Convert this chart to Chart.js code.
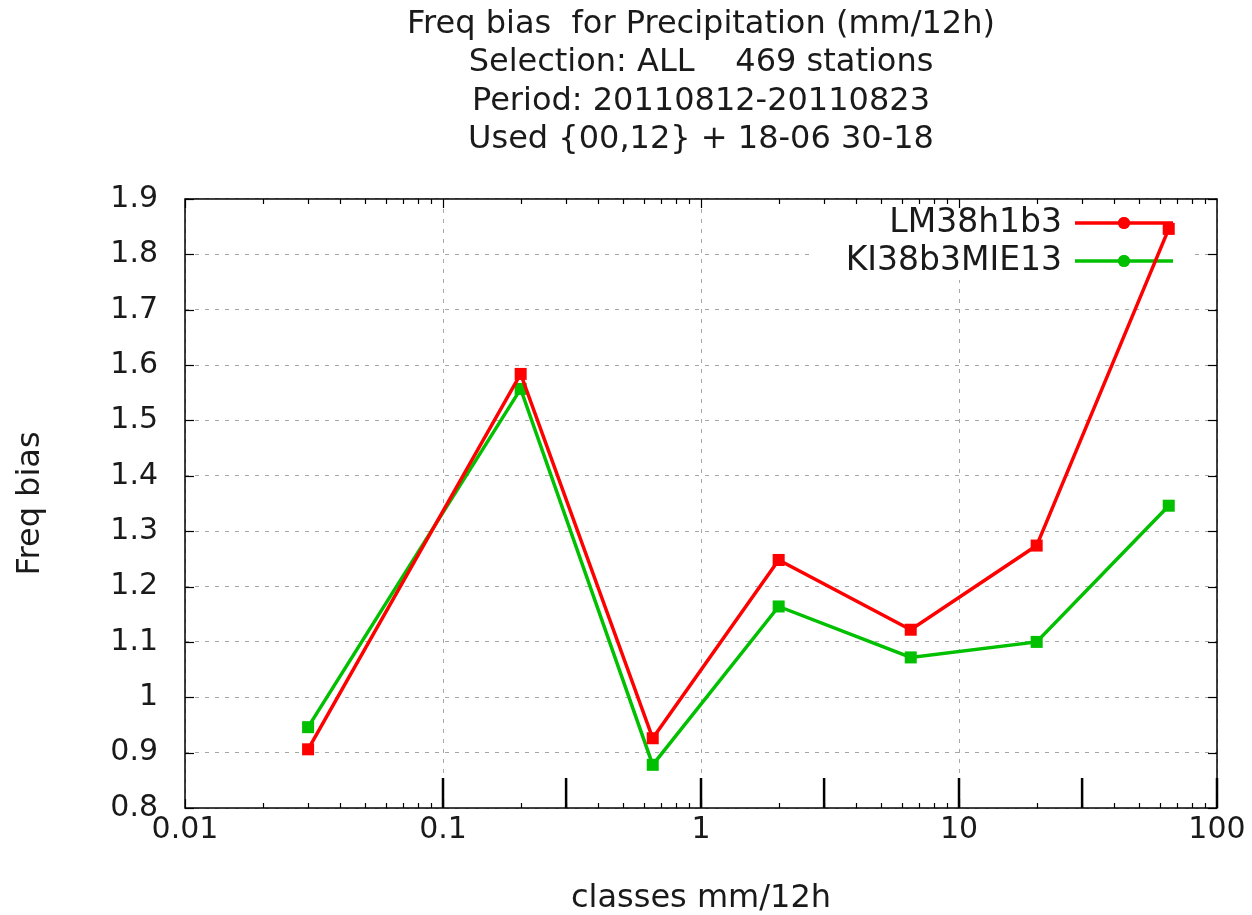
<!DOCTYPE html>
<html>
<head>
<meta charset="utf-8">
<script src="https://cdn.jsdelivr.net/npm/chart.js@4/dist/chart.umd.min.js"></script>
<style>
  html, body { margin: 0; padding: 0; background: #ffffff; }
  #wrap { width: 1252px; height: 915px; }
</style>
</head>
<body>
<div id="wrap"><canvas id="c" width="1252" height="915"></canvas></div>
<script>
// Header lines
const titleLines = [
  'Freq bias  for Precipitation (mm/12h)',
  'Selection: ALL    469 stations',
  'Period: 20110812-20110823',
  'Used {00,12} + 18-06 30-18'
];

// Precipitation classes (mm/12h) and frequency bias per model run
const classes = [0.03, 0.2, 0.65, 2, 6.5, 20, 65];
const lmValues = [0.906, 1.584, 0.926, 1.248, 1.122, 1.274, 1.846];
const kiValues = [0.946, 1.557, 0.878, 1.164, 1.072, 1.100, 1.346];
const seriesNames = ['LM38h1b3', 'KI38b3MIE13'];
const seriesColors = ['#ff0000', '#00c000'];

// Axis ticks
const xTickValues = [0.01, 0.1, 1, 10, 100];
const yMin = 0.8, yMax = 1.9, yStep = 0.1;
// Class boundaries marked on the bottom axis
const classBounds = [0.1, 0.3, 1, 3, 10, 30, 100];

const FONT = 'DejaVu Sans';
const TEXT = '#1a1a1a';
const GRID = '#a6a6a6';

function toPoints(xs, ys) {
  return xs.map((x, i) => ({ x: x, y: ys[i] }));
}

function line(ctx, x1, y1, x2, y2) {
  ctx.beginPath();
  ctx.moveTo(x1, y1);
  ctx.lineTo(x2, y2);
  ctx.stroke();
}

// Frame, inward tick marks, class boundary marks and the key
const framePlugin = {
  id: 'frameAndKey',
  beforeDatasetsDraw(chart) {
    const { ctx, chartArea: a, scales } = chart;
    const xs = scales.x, ys = scales.y;
    ctx.save();

    // opaque key background
    ctx.fillStyle = '#ffffff';
    ctx.fillRect(815, a.top + 1, 377, 80);

    // frame
    ctx.strokeStyle = '#000000';
    ctx.lineWidth = 1.5;
    ctx.setLineDash([]);
    ctx.strokeRect(a.left, a.top, a.right - a.left, a.bottom - a.top);

    // y ticks on both sides
    ctx.lineWidth = 1.2;
    ys.ticks.forEach(t => {
      const py = Math.round(ys.getPixelForValue(t.value)) + 0.5;
      line(ctx, a.left, py, a.left + 9, py);
      line(ctx, a.right - 9, py, a.right, py);
    });

    // x log ticks (major + minor) on bottom and top
    for (let d = 0.01; d < 100; d *= 10) {
      for (let m = 1; m <= 9; m++) {
        const v = d * m;
        const px = Math.round(xs.getPixelForValue(v)) + 0.5;
        const len = m === 1 ? 9 : 5;
        line(ctx, px, a.bottom, px, a.bottom - len);
        line(ctx, px, a.top, px, a.top + len);
      }
    }

    // class boundary marks
    ctx.lineWidth = 2.5;
    classBounds.forEach(v => {
      const px = xs.getPixelForValue(v);
      line(ctx, px, a.bottom, px, a.bottom - 30);
    });

    // key entries
    ctx.font = '33px "' + FONT + '"';
    ctx.textAlign = 'right';
    ctx.textBaseline = 'middle';
    chart.data.datasets.forEach((ds, i) => {
      const ky = 223 + i * 38;
      ctx.fillStyle = TEXT;
      ctx.fillText(ds.label, 1062, ky);
      ctx.strokeStyle = ds.borderColor;
      ctx.lineWidth = 3.5;
      line(ctx, 1075, ky, 1173, ky);
      ctx.fillStyle = ds.backgroundColor;
      Chart.helpers.drawPoint(ctx, { pointStyle: 'circle', radius: 6, borderWidth: 0 }, 1124, ky);
      ctx.fill();
    });

    ctx.restore();
  }
};

const datasets = [lmValues, kiValues].map((vals, i) => ({
  label: seriesNames[i],
  data: toPoints(classes, vals),
  borderColor: seriesColors[i],
  backgroundColor: seriesColors[i],
  pointBackgroundColor: seriesColors[i],
  pointBorderColor: seriesColors[i],
  pointStyle: 'rect',
  pointRadius: 8.5,
  pointBorderWidth: 0,
  borderWidth: 3.5,
  tension: 0,
  fill: false
}));

new Chart(document.getElementById('c'), {
  type: 'line',
  data: { datasets: datasets },
  plugins: [framePlugin],
  options: {
    responsive: false,
    animation: false,
    devicePixelRatio: 1,
    layout: { padding: { left: 0, right: 35, top: 0, bottom: 0 } },
    plugins: {
      legend: { display: false },
      tooltip: { enabled: false },
      title: {
        display: true,
        fullSize: false,
        text: titleLines,
        color: TEXT,
        font: { family: FONT, size: 32, weight: 'normal', lineHeight: 1.203 },
        padding: { top: 5, bottom: 40 }
      }
    },
    scales: {
      x: {
        type: 'logarithmic',
        min: 0.01,
        max: 100,
        afterBuildTicks(scale) {
          scale.ticks = xTickValues.map(v => ({ value: v, major: true }));
        },
        afterFit(scale) { scale.height = 107; },
        grid: { color: GRID, lineWidth: 1, drawTicks: false },
        border: { display: false, dash: [4, 6] },
        ticks: {
          autoSkip: false,
          maxRotation: 0,
          padding: 4,
          color: TEXT,
          font: { family: FONT, size: 30 },
          callback: v => String(v)
        },
        title: {
          display: true,
          text: 'classes mm/12h',
          color: TEXT,
          font: { family: FONT, size: 32, lineHeight: 1 },
          padding: { top: 0, bottom: 0 }
        }
      },
      y: {
        type: 'linear',
        min: yMin,
        max: yMax,
        afterFit(scale) { scale.width = 185; },
        grid: { color: GRID, lineWidth: 1, drawTicks: false },
        border: { display: false, dash: [4, 6] },
        ticks: {
          stepSize: yStep,
          padding: 27,
          color: TEXT,
          font: { family: FONT, size: 30 },
          callback: v => String(+v.toFixed(1))
        },
        title: {
          display: true,
          text: 'Freq bias',
          color: TEXT,
          font: { family: FONT, size: 32, lineHeight: 1.2 },
          padding: { top: 11, bottom: 0 }
        }
      }
    }
  }
});
</script>
</body>
</html>
